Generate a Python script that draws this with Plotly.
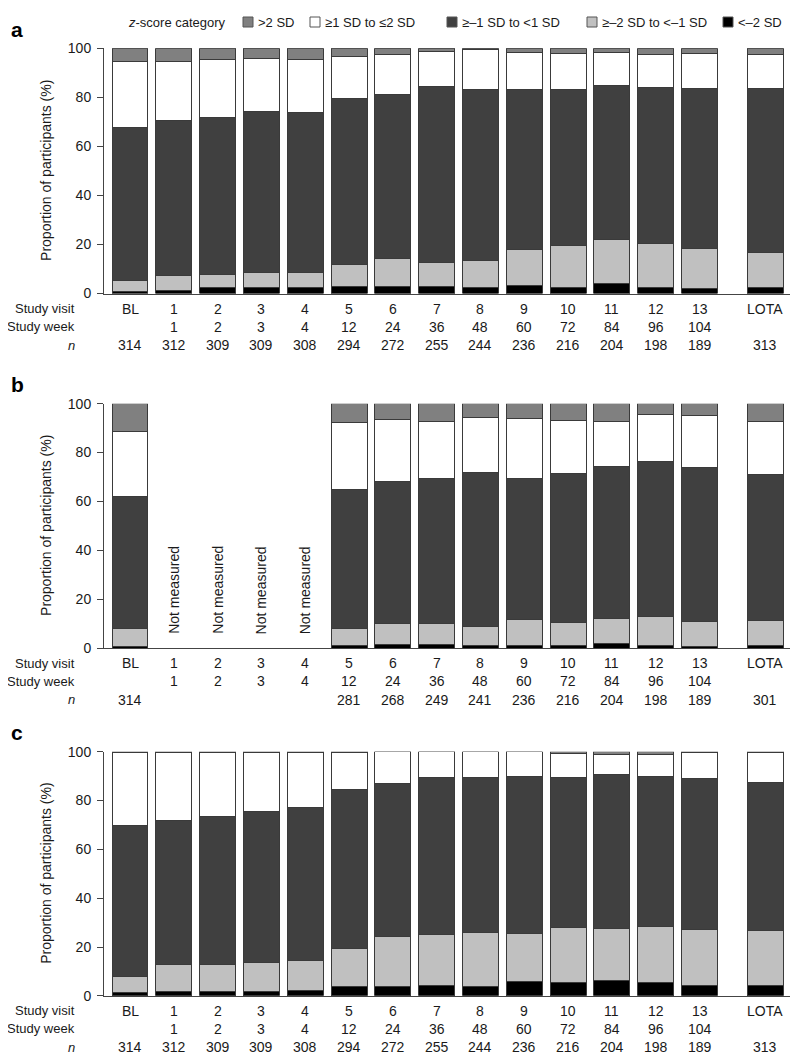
import plotly.graph_objects as go

# categories along the x axis
visits = ['BL', '1', '2', '3', '4', '5', '6', '7', '8', '9', '10', '11', '12', '13', 'LOTA']
weeks = ['', '1', '2', '3', '4', '12', '24', '36', '48', '60', '72', '84', '96', '104', '']
x_pos = list(range(14)) + [14.5]   # LOTA sits a little apart

n_a = ['314', '312', '309', '309', '308', '294', '272', '255', '244', '236', '216', '204', '198', '189', '313']
n_b = ['314', '', '', '', '', '281', '268', '249', '241', '236', '216', '204', '198', '189', '301']
n_c = ['314', '312', '309', '309', '308', '294', '272', '255', '244', '236', '216', '204', '198', '189', '313']

# panel a, % of participants per z-score category
a_below_m2 = [1.0, 1.4, 2.3, 2.3, 2.3, 2.9, 2.7, 2.7, 2.3, 3.3, 2.3, 4.1, 2.3, 2.0, 2.6]
a_m2_m1 = [4.2, 5.8, 5.5, 6.3, 6.3, 8.8, 11.7, 10.0, 11.3, 14.7, 17.2, 17.9, 18.0, 16.5, 14.0]
a_m1_p1 = [62.6, 63.4, 64.0, 65.7, 65.1, 67.9, 66.8, 71.9, 69.7, 65.4, 63.8, 62.8, 63.7, 65.2, 67.1]
a_p1_p2 = [26.9, 24.1, 23.8, 21.6, 21.7, 17.0, 16.4, 14.2, 16.2, 15.1, 14.7, 13.4, 13.4, 14.1, 13.7]
a_above_p2 = [5.3, 5.3, 4.4, 4.1, 4.6, 3.4, 2.4, 1.2, 0.5, 1.5, 2.0, 1.8, 2.6, 2.2, 2.6]

# panel b (visits 1-4 not measured)
b_below_m2 = [0.7, None, None, None, None, 1.1, 1.6, 1.4, 1.1, 1.1, 1.1, 2.0, 1.0, 0.7, 1.0]
b_m2_m1 = [7.5, None, None, None, None, 7.1, 8.4, 8.6, 7.9, 10.5, 9.3, 10.0, 11.8, 10.1, 10.2]
b_m1_p1 = [54.0, None, None, None, None, 56.6, 58.2, 59.2, 62.8, 57.8, 61.0, 62.5, 63.5, 63.1, 59.7]
b_p1_p2 = [26.3, None, None, None, None, 27.3, 25.3, 23.3, 22.6, 24.4, 21.8, 18.4, 19.2, 21.2, 22.0]
b_above_p2 = [11.5, None, None, None, None, 7.9, 6.5, 7.5, 5.6, 6.2, 6.8, 7.1, 4.5, 4.9, 7.1]

# panel c
c_below_m2 = [1.4, 1.9, 1.9, 1.9, 2.3, 3.8, 4.0, 4.1, 3.7, 5.7, 5.3, 6.3, 5.5, 4.1, 4.4]
c_m2_m1 = [6.5, 10.9, 10.9, 11.8, 12.2, 15.6, 20.3, 21.0, 22.3, 19.8, 22.6, 21.3, 22.9, 23.1, 22.2]
c_m1_p1 = [62.0, 59.2, 60.8, 61.8, 62.8, 64.9, 62.7, 64.5, 63.3, 64.4, 61.7, 63.2, 61.6, 61.7, 60.8]
c_p1_p2 = [29.8, 27.6, 26.0, 24.1, 22.3, 15.2, 13.0, 10.4, 10.7, 10.1, 9.6, 8.1, 8.9, 10.7, 12.2]
c_above_p2 = [0.3, 0.4, 0.4, 0.4, 0.4, 0.5, 0.0, 0.0, 0.0, 0.0, 0.8, 1.1, 1.1, 0.4, 0.4]

cat_names = ['<–2 SD', '≥–2 SD to <–1 SD', '≥–1 SD to <1 SD', '≥1 SD to ≤2 SD', '>2 SD']
cat_colors = ['#000000', '#c0c0c0', '#404040', '#ffffff', '#808080']

# where the page puts the figure in the final picture (measured):
# picture_x = 8 + fig_x, picture_y = 16 + 0.984 * fig_y
OX, OY, SY = 8, 16, 0.984
FW, FH = 790, 1058
FONT = 'Liberation Sans, Arial, sans-serif'
TXT = '#1a1a1a'


def px(p):
    return (p - OX) / FW


def py(p):
    return 1 - ((p - OY) / SY) / FH


panels = [
    ('a', (48.3, 293.3), [a_below_m2, a_m2_m1, a_m1_p1, a_p1_p2, a_above_p2], n_a),
    ('b', (403.3, 647.7), [b_below_m2, b_m2_m1, b_m1_p1, b_p1_p2, b_above_p2], n_b),
    ('c', (751.0, 995.0), [c_below_m2, c_m2_m1, c_m1_p1, c_p1_p2, c_above_p2], n_c),
]

fig = go.Figure()
annotations = []
layout_axes = {}

for k, (letter, (top, bot), series, n_vals) in enumerate(panels, start=1):
    xa = 'x' if k == 1 else f'x{k}'
    ya = 'y' if k == 1 else f'y{k}'
    for vals, name, col in zip(series, cat_names, cat_colors):
        fig.add_trace(go.Bar(
            x=x_pos, y=vals, name=name, xaxis=xa, yaxis=ya,
            width=0.82, showlegend=False,
            marker=dict(color=col, line=dict(color='#3a3a3a', width=1)),
        ))

    layout_axes['xaxis' if k == 1 else f'xaxis{k}'] = dict(
        domain=[px(104), min(px(795), 1)], range=[-0.594, 15.18], anchor=ya,
        showticklabels=False, ticks='', showgrid=False, zeroline=False,
        showline=True, linecolor='#444444', linewidth=1,
    )
    layout_axes['yaxis' if k == 1 else f'yaxis{k}'] = dict(
        domain=[py(bot), py(top)], range=[0, 100], anchor=xa,
        tickvals=[0, 20, 40, 60, 80, 100], ticks='outside', ticklen=6,
        tickcolor='#444444', ticklabelstandoff=3,
        tickfont=dict(size=14, color=TXT, family=FONT),
        showgrid=False, zeroline=False,
        showline=True, linecolor='#444444', linewidth=1,
    )

    # panel letter and y title
    annotations.append(dict(x=px(9), y=py(top - 19), xref='paper', yref='paper',
                            text=f'<b>{letter}</b>', showarrow=False,
                            xanchor='left', yanchor='middle',
                            font=dict(size=21, color='#000000', family=FONT)))
    annotations.append(dict(x=px(46), y=py((top + bot) / 2), xref='paper', yref='paper',
                            text='Proportion of participants (%)', textangle=-90,
                            showarrow=False, xanchor='center', yanchor='middle',
                            font=dict(size=14, color=TXT, family=FONT)))

    # rows under the bars
    row_y = [bot + 15, bot + 33, bot + 51.5]
    for label, ry in zip(['Study visit', 'Study week', '<i>n</i>'], row_y):
        annotations.append(dict(x=px(77), y=py(ry), xref='paper', yref='paper',
                                text=label, showarrow=False, xanchor='right',
                                yanchor='middle', font=dict(size=13, color=TXT, family=FONT)))
    for xv, v, w, nv in zip(x_pos, visits, weeks, n_vals):
        for t, ry in zip([v, w, nv], row_y):
            if t:
                annotations.append(dict(x=xv, y=py(ry), xref=xa, yref='paper',
                                        text=t, showarrow=False, xanchor='center',
                                        yanchor='middle',
                                        font=dict(size=14, color=TXT, family=FONT)))

    if letter == 'b':
        for xv, v in zip(x_pos, b_m1_p1):
            if v is None:
                annotations.append(dict(x=xv, y=5, xref=xa, yref=ya,
                                        text='Not measured', textangle=-90,
                                        showarrow=False, xanchor='center', yanchor='bottom',
                                        font=dict(size=14, color=TXT, family=FONT)))

# legend across the top (as high as the page allows)
LEG_Y = 22
annotations.append(dict(x=px(228), y=py(LEG_Y), xref='paper', yref='paper',
                        text='<i>z</i>-score category', showarrow=False,
                        xanchor='right', yanchor='middle',
                        font=dict(size=13, color=TXT, family=FONT)))
legend_x = [243, 310, 447, 587, 723]
shapes = []
for bx, name, col in zip(legend_x, cat_names[::-1], cat_colors[::-1]):
    shapes.append(dict(type='rect', xref='paper', yref='paper',
                       x0=px(bx), x1=px(bx + 10), y0=py(LEG_Y + 5), y1=py(LEG_Y - 5),
                       fillcolor=col, line=dict(color='#555555', width=1)))
    annotations.append(dict(x=px(bx + 13), y=py(LEG_Y), xref='paper', yref='paper',
                            text=name, showarrow=False, xanchor='left', yanchor='middle',
                            font=dict(size=13, color=TXT, family=FONT)))

fig.update_layout(
    barmode='stack',
    width=FW, height=FH,
    margin=dict(l=0, r=0, t=0, b=0),
    plot_bgcolor='white', paper_bgcolor='white',
    font=dict(family=FONT, color=TXT),
    annotations=annotations,
    shapes=shapes,
    showlegend=False,
    **layout_axes,
)

fig.write_html('out.html')
